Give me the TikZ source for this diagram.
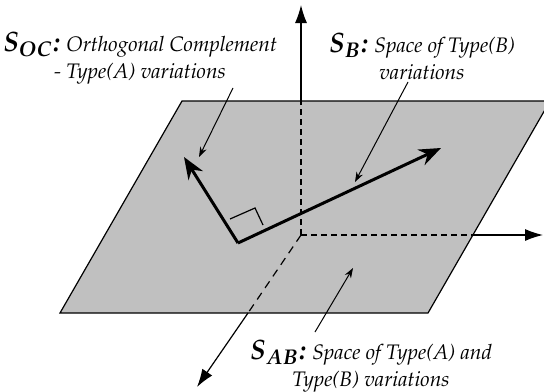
\documentclass[tikz,border=0pt]{standalone}
\usepackage[T1]{fontenc}
\usepackage{amsmath,amssymb}
\usepackage{mathpazo}
\usepackage{tikz}
\usetikzlibrary{arrows.meta,calc}

\definecolor{planegray}{RGB}{192,192,192}
\newcommand{\SpaceLbl}[1]{{\fontsize{14}{14}\selectfont\boldmath$S_{#1}$\textbf{:}}}

\tikzset{
  axis/.style={line width=0.6pt, -{Latex[length=9pt,width=6pt]}},
  axisdash/.style={line width=1.1pt, dash pattern=on 3pt off 2pt},
  vec/.style={line width=1.5pt, -{Stealth[length=11pt,width=8.5pt]}},
  pointer/.style={line width=0.5pt, -{Stealth[length=5pt,width=3.5pt]}},
  lbl/.style={align=center, inner sep=0pt, font=\fontsize{10.5}{13.5}\selectfont\itshape}
}

\begin{document}
\begin{tikzpicture}[x=0.5pt,y=-0.5pt]
    \useasboundingbox (0,0) rectangle (544,391);
    % Plane S_AB
    \coordinate (tl) at (182,101);
    \coordinate (tr) at (550,101);
    \coordinate (br) at (428,313);
    \coordinate (bl) at (60,313);
    \fill[planegray] (tl) -- (tr) -- (br) -- (bl) -- cycle;
    \draw[line width=0.6pt] (tl) -- (tr) -- (br) -- (bl) -- cycle;
    % Axes
    \coordinate (o) at (301,235);
    \coordinate (ze) at (301,101);
    \coordinate (zt) at (301,5);
    \coordinate (xe) at (473,235);
    \coordinate (xt) at (543,235);
    \coordinate (ye) at (248,313);
    \coordinate (yt) at (197,387);
    \draw[axisdash] (o) -- (ze);
    \draw[axisdash] (o) -- (xe);
    \draw[line width=0.6pt, dash pattern=on 4pt off 3pt] (o) -- (ye);
    \draw[axis] (ze) -- (zt);
    \draw[axis] (xe) -- (xt);
    \draw[axis] (ye) -- (yt);
    % Orthogonal vectors
    \coordinate (c) at (238,243);
    \coordinate (va) at (184,157);
    \coordinate (vb) at (441,148);
    \draw[line width=0.6pt] (230,219) -- (255,208) -- (263,225);
    \draw[vec] (c) -- (va);
    \draw[vec] (c) -- (vb);
    % Labels
    \node[lbl, anchor=north] (soc) at (140,32)
      {\SpaceLbl{OC} Orthogonal Complement\\- Type(A) variations};
    \node[lbl, anchor=north] (sb) at (422,33)
      {\SpaceLbl{B} Space of Type(B)\\variations};
    \node[lbl, anchor=north] (sab) at (371,340)
      {\SpaceLbl{AB} Space of Type(A) and\\Type(B) variations};
    % Pointers
    \coordinate (socfrom) at (233,88);
    \coordinate (socto) at (199,157);
    \coordinate (sbfrom) at (408,82);
    \coordinate (sbto) at (355,182);
    \coordinate (sabfrom) at (315,332);
    \coordinate (sabto) at (353,268);
    \draw[pointer] (socfrom) -- (socto);
    \draw[pointer] (sbfrom) -- (sbto);
    \draw[pointer] (sabfrom) -- (sabto);
\end{tikzpicture}
\end{document}
